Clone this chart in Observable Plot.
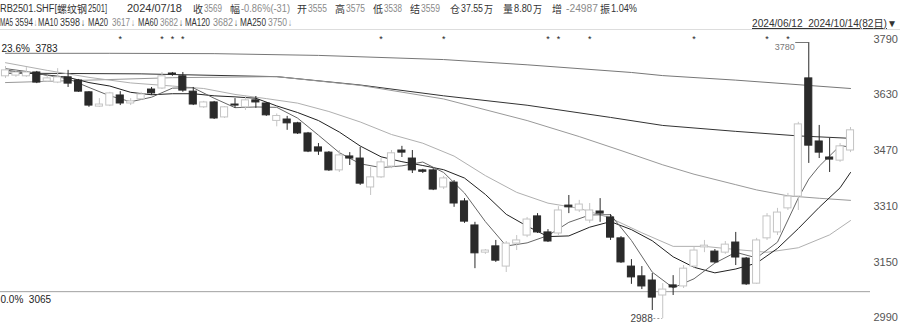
<!DOCTYPE html>
<html><head><meta charset="utf-8">
<script src="https://cdn.jsdelivr.net/npm/d3@7"></script>
<script src="https://cdn.jsdelivr.net/npm/@observablehq/plot@0.6"></script>
<style>
body{margin:0;background:#fff;}
#wrap{position:relative;width:900px;height:325px;overflow:hidden;font-family:"Liberation Sans",Arial,"Noto Sans CJK SC",sans-serif;}
.t{position:absolute;white-space:nowrap;line-height:12px;color:#333;font-size:10px;transform-origin:0 50%;}
.g{color:#8a8a8a;}
.cj{font-family:"Noto Sans CJK SC",sans-serif;}
#plot{position:absolute;left:0;top:0;}
#border{position:absolute;left:0;top:29px;width:900px;height:1px;background:#ddd;}
</style></head><body><div id="wrap"><div id="border"></div><div id="plot"></div></div>
<script>
// daily candles RB2501, 2024/06/12 – 2024/10/14 (82 trading days)
const opens = [3683,3685,3683,3694,3668,3665,3680,3671,3637,3596,
3599,3628,3605,3617,3645,3648,3691,3683,3639,3594,
3608,3565,3602,3594,3614,3605,3555,3559,3548,3519,
3479,3464,3413,3453,3447,3364,3393,3424,3470,3447,
3413,3413,3364,3378,3324,3255,3177,3195,3137,3203,
3226,3281,3235,3232,3312,3298,3269,3295,3278,3218,
3137,3109,3097,3054,3083,3080,3137,3192,3180,3177,
3206,3160,3088,3218,3235,3304,3338,3677,3496,3450,
3441,3470];
const highs = [3711,3700,3708,3697,3685,3705,3700,3674,3639,3619,
3637,3639,3619,3637,3651,3694,3694,3694,3651,3611,
3611,3596,3619,3628,3625,3608,3575,3568,3551,3522,
3490,3467,3470,3464,3479,3421,3447,3470,3482,3470,
3416,3418,3396,3384,3332,3264,3186,3212,3209,3226,
3278,3289,3243,3309,3341,3327,3318,3332,3286,3223,
3157,3137,3117,3088,3111,3140,3192,3212,3186,3209,
3235,3163,3218,3289,3304,3347,3551,3780,3542,3505,
3490,3536];
const lows = [3677,3680,3680,3662,3665,3662,3651,3637,3594,3594,
3596,3599,3599,3614,3628,3645,3683,3637,3599,3591,
3559,3562,3591,3585,3591,3568,3538,3528,3516,3464,
3456,3410,3407,3427,3370,3341,3390,3418,3450,3404,
3404,3355,3358,3307,3261,3131,3172,3149,3120,3183,
3220,3232,3206,3226,3289,3292,3261,3264,3212,3146,
3086,3071,3011,2988,3054,3074,3131,3177,3146,3172,
3140,3083,3086,3212,3226,3298,3298,3433,3447,3407,
3436,3464];
const closes = [3700,3694,3694,3665,3677,3680,3662,3639,3599,3602,
3634,3605,3611,3631,3634,3683,3688,3642,3602,3608,
3562,3594,3599,3614,3608,3571,3569,3548,3519,3467,
3467,3413,3456,3447,3375,3393,3436,3462,3464,3413,
3409,3358,3390,3318,3266,3175,3183,3154,3203,3212,
3272,3235,3209,3298,3307,3315,3298,3289,3220,3149,
3106,3080,3048,3071,3077,3131,3183,3197,3149,3200,
3163,3086,3212,3281,3292,3338,3545,3484,3464,3444,
3482,3528];

// moving averages: [day index, value]
const ma5 = [[0,3705],[2,3697],[4,3686],[6,3676],[8,3651],[10,3627],[12,3610],[14,3623],[16,3649],[18,3650],[20,3620],[22,3593],[24,3595],[26,3594],[28,3563],[30,3514],[32,3464],[34,3432],[36,3421],[38,3426],[40,3437],[42,3407],[44,3348],[46,3266],[48,3196],[50,3205],[52,3226],[54,3264],[56,3285],[58,3286],[60,3212],[62,3121],[64,3076],[66,3102],[68,3147],[70,3178],[72,3162],[74,3207],[76,3334],[77,3388],[78,3425],[80,3484],[81,3480]];
const ma10 = [[0,3700],[3,3690],[6,3680],[8,3665],[10,3655],[12,3637],[14,3630],[16,3633],[18,3633],[20,3627],[22,3624],[24,3620],[26,3598],[28,3579],[30,3556],[32,3523],[34,3483],[36,3452],[38,3438],[40,3427],[42,3415],[44,3391],[46,3344],[48,3287],[50,3253],[52,3223],[54,3225],[56,3250],[58,3266],[60,3243],[62,3211],[64,3165],[66,3135],[68,3119],[70,3130],[72,3147],[74,3189],[76,3246],[78,3307],[80,3363],[81,3407]];
const ma20 = [[0,3722],[4,3700],[8,3680],[12,3664],[16,3655],[19,3648],[22,3631],[25,3619],[28,3606],[31,3582],[34,3552],[37,3516],[40,3491],[43,3454],[46,3398],[49,3350],[52,3319],[55,3304],[58,3276],[61,3234],[64,3195],[67,3195],[70,3186],[73,3178],[76,3191],[79,3228],[81,3269]];
const ma60 = [[0,3665],[8,3672],[16,3679],[26,3682],[34,3657],[42,3618],[50,3556],[55,3510],[59,3470],[63,3429],[66,3402],[70,3372],[72,3357],[75,3340],[78,3333],[81,3327]];
const ma120 = [[0,3692],[13,3690],[26,3682],[34,3658],[42,3627],[50,3600],[58,3565],[63,3542],[70,3525],[76,3512],[81,3505]];
const ma250 = [[0,3749],[10,3749],[20,3748],[30,3743],[42,3731],[50,3716],[60,3694],[63,3685],[70,3672],[81,3648]];

const yTicks = [3790,3630,3470,3310,3150,2990];
const starDays = [11,15,16,17,36,42,52,53,56,66,73,75];
const fibLevels = [{p:"0.0%", v:3065}];
const fibTop = {p:"23.6%", v:3783};
const highMark = {i:77, v:3780};
const lowMark = {i:63, v:2988};

const candles = opens.map((o,i)=>({i, o, h:highs[i], l:lows[i], c:closes[i], up: closes[i] > o}));
const up = candles.filter(d=>d.up), dn = candles.filter(d=>!d.up);
const pts = a => a.map(([i,v])=>({i,v}));
const hw = 0.34;

const chart = Plot.plot({
  width: 900, height: 325,
  marginLeft: 0, marginRight: 30, marginTop: 0, marginBottom: 0,
  x: {domain:[0,81], range:[5,850], axis:null},
  y: {domain:[2988,3780], range:[318,42], axis:null},
  style: {background:"transparent", fontFamily:'"Liberation Sans",Arial,sans-serif', overflow:"visible"},
  marks: [
    Plot.ruleY(fibLevels, {y:"v", stroke:"#a0a0a0", strokeWidth:1}),
    Plot.text(fibLevels, {y:"v", text:d=>`${d.p}  ${d.v}`, frameAnchor:"left", textAnchor:"start", dx:0, dy:8, fill:"#222", fontSize:10}),
    Plot.text([fibTop], {y:"v", text:d=>`${d.p}  ${d.v}`, frameAnchor:"left", textAnchor:"start", dx:1, dy:7, fill:"#222", fontSize:10}),
    Plot.line(pts(ma250), {x:"i", y:"v", stroke:"#777", strokeWidth:1}),
    Plot.line(pts(ma120), {x:"i", y:"v", stroke:"#333", strokeWidth:1}),
    Plot.line(pts(ma60), {x:"i", y:"v", stroke:"#999", strokeWidth:1}),
    Plot.line(pts(ma20), {x:"i", y:"v", stroke:"#b0b0b0", strokeWidth:1}),
    Plot.line(pts(ma10), {x:"i", y:"v", stroke:"#222", strokeWidth:1}),
    Plot.line(pts(ma5), {x:"i", y:"v", stroke:"#666", strokeWidth:1}),
    Plot.ruleX(up, {x:"i", y1:"l", y2:"h", stroke:"#c4c4c4"}),
    Plot.rect(up, {x1:d=>d.i-hw, x2:d=>d.i+hw, y1:"o", y2:"c", fill:"#fff", stroke:"#c4c4c4"}),
    Plot.ruleX(dn, {x:"i", y1:"l", y2:"h", stroke:"#2a2a2a"}),
    Plot.rect(dn, {x1:d=>d.i-hw, x2:d=>d.i+hw, y1:"o", y2:"c", fill:"#2a2a2a", stroke:"#2a2a2a"}),
    Plot.text(starDays, {x:d=>d, frameAnchor:"top", dy:35, text:()=>"*", fill:"#222", fontSize:9}),
    Plot.text(yTicks, {y:d=>d, frameAnchor:"right", dx:3, textAnchor:"start", text:d=>String(d), fill:"#555", fontSize:11}),
    Plot.ruleY([highMark], {y:"v", x1:d=>d.i-1.25, x2:"i", stroke:"#777"}),
    Plot.text([highMark], {x:"i", y:"v", text:d=>String(d.v), dx:-14, dy:5, textAnchor:"end", fill:"#777", fontSize:9}),
    Plot.ruleY([lowMark], {y:"v", x1:d=>d.i-0.85, x2:"i", stroke:"#999", strokeDasharray:"2,2"}),
    Plot.text([lowMark], {x:"i", y:"v", text:d=>String(d.v), dx:-10, textAnchor:"end", fill:"#444", fontSize:10})
  ]
});
document.getElementById("plot").appendChild(chart);

// header tokens: [left px, right px, text, grey, cjk]
const header1 = [
  [0,57,"RB2501.SHF[",0,0],[57,87,"螺纹钢",0,1],[88,107,"2501]",0,0],
  [127,182,"2024/07/18",0,0],
  [193,203,"收",0,1],[204,222,"3569",1,0],
  [230,240,"幅",0,1],[241,290,"-0.86%(-31)",1,0],
  [297,307,"开",0,1],[308,327,"3555",1,0],
  [335,345,"高",0,1],[346,365,"3575",1,0],
  [373,383,"低",0,1],[384,402,"3538",1,0],
  [410,420,"结",0,1],[421,440,"3559",1,0],
  [450,460,"仓",0,1],[461,483,"37.55",0,0],[484,493,"万",0,1],
  [503,513,"量",0,1],[514,532,"8.80",0,0],[533,542,"万",0,1],
  [552,562,"增",0,1],[566,598,"-24987",1,0],
  [600,610,"振",0,1],[611,637,"1.04%",0,0]
];
const header2 = [
  [0,13,"MA5",0],[15,33,"3594",0],[34,37,"↓",1],
  [38,58,"MA10",0],[60,80,"3598",0],[81,85,"↓",0],
  [88,108,"MA20",0],[112,130,"3617",1],[131,135,"↓",1],
  [138,158,"MA60",0],[160,178,"3682",1],[179,183,"↓",0],
  [185,210,"MA120",0],[213,233,"3682",1],[234,238,"↓",0],
  [240,266,"MA250",0],[268,287,"3750",1],[288,292,"↓",1]
];
const wrap = document.getElementById("wrap");
function put(x, x2, top, s, grey, cjk, html){
  const d = document.createElement("div");
  d.className = "t" + (grey ? " g" : "") + (cjk ? " cj" : "");
  d.style.left = x+"px"; d.style.top = top+"px";
  if (html) d.innerHTML = s; else d.textContent = s;
  wrap.appendChild(d);
  const w = d.getBoundingClientRect().width, target = x2 - x;
  if (w > 0) d.style.transform = `scaleX(${Math.max(0.6, Math.min(1.25, target / w))})`;
  return d;
}
header1.forEach(([x,x2,s,g,c])=>put(x, x2, 3, s, g, c));
header2.forEach(([x,x2,s,g])=>put(x, x2, 17, s, g, 0));
put(752, 897, 17, '<span style="text-decoration:underline">2024/06/12&nbsp;&nbsp;2024/10/14(82<span class="cj">日</span>)</span>▼', 0, 0, true);
</script>
</body></html>
